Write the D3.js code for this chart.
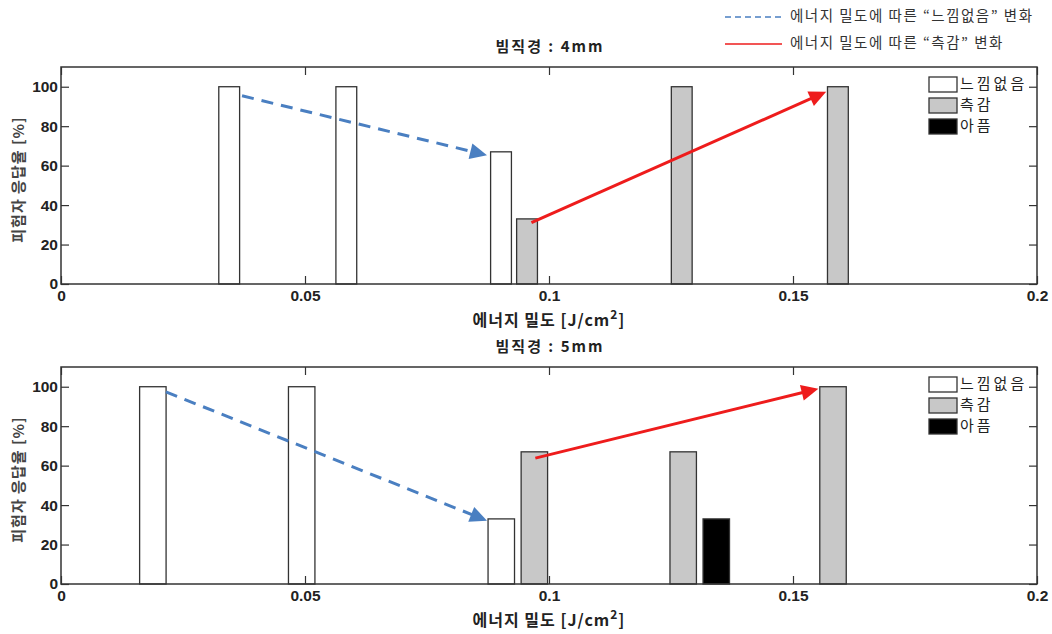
<!DOCTYPE html>
<html>
<head>
<meta charset="utf-8">
<script src="https://cdn.jsdelivr.net/npm/d3@7"></script>
<style>
body { margin: 0; background: #fff; }
text { font-family: "Liberation Sans", Arial, "Noto Sans CJK KR", sans-serif; fill: #222; }
.kr { font-family: "Noto Sans CJK KR", sans-serif; }
</style>
</head>
<body>
<script>
var width = 1052;
var height = 634;

// legend / series
var seriesNames = ['느낌없음', '측감', '아픔'];
var seriesFill = ['#ffffff', '#c8c8c8', '#000000'];
var xTicks = [0, 0.05, 0.1, 0.15, 0.2];
var yTicks = [0, 20, 40, 60, 80, 100];

// beam 4mm
var energy4 = [0.0398, 0.0638, 0.0955, 0.1272, 0.1592];
var none4 = [100, 100, 67, 0, 0];
var tactile4 = [0, 0, 33, 100, 100];
var pain4 = [0, 0, 0, 0, 0];
var arrowNone4 = [0.0371, 95.4, 0.0873, 65.3];
var arrowTactile4 = [0.0964, 31.1, 0.1568, 97.4];

// beam 5mm
var energy5 = [0.0256, 0.0561, 0.0970, 0.1275, 0.1582];
var none5 = [100, 100, 33, 0, 0];
var tactile5 = [0, 0, 67, 67, 100];
var pain5 = [0, 0, 0, 33, 0];
var arrowNone5 = [0.0215, 97.4, 0.0873, 32.1];
var arrowTactile5 = [0.0972, 63.8, 0.1552, 99];

var blue = '#4a7fc1';
var red = '#ee1c1c';

var panels = [
  {title: '빔직경 : 4mm', energy: energy4, values: [none4, tactile4, pain4],
   arrows: [arrowNone4, arrowTactile4], top: 67, bottom: 284},
  {title: '빔직경 : 5mm', energy: energy5, values: [none5, tactile5, pain5],
   arrows: [arrowNone5, arrowTactile5], top: 367, bottom: 584}
];

var svg = d3.select('body').append('svg')
  .attr('width', width)
  .attr('height', height);

var x = d3.scaleLinear().domain([0, 0.2]).range([61, 1037]);

// top legend for the arrows
var topLegend = [
  {label: '에너지 밀도에 따른 “느낌없음” 변화', color: blue, dash: '6,4', y: 17},
  {label: '에너지 밀도에 따른 “측감” 변화', color: red, dash: null, y: 44}
];
topLegend.forEach(function(d) {
  svg.append('line')
    .attr('x1', 725).attr('x2', 782)
    .attr('y1', d.y).attr('y2', d.y)
    .attr('stroke', d.color)
    .attr('stroke-width', 1.6)
    .attr('stroke-dasharray', d.dash);
  svg.append('text')
    .attr('class', 'kr')
    .attr('x', 790).attr('y', d.y)
    .attr('dominant-baseline', 'middle')
    .style('font-size', '14.5px')
    .style('letter-spacing', '1.5px')
    .style('fill', '#333')
    .text(d.label);
});

function drawArrow(g, y, a, color, dashed) {
  var x1 = x(a[0]), y1 = y(a[1]), x2 = x(a[2]), y2 = y(a[3]);
  var ang = Math.atan2(y2 - y1, x2 - x1);
  var hl = 17, hw = 8;
  var bx = x2 - hl * Math.cos(ang), by = y2 - hl * Math.sin(ang);
  g.append('line')
    .attr('x1', x1).attr('y1', y1)
    .attr('x2', bx + 2 * Math.cos(ang)).attr('y2', by + 2 * Math.sin(ang))
    .attr('stroke', color)
    .attr('stroke-width', 3)
    .attr('stroke-dasharray', dashed ? '12,8' : null);
  g.append('path')
    .attr('d', 'M' + x2 + ',' + y2 +
      'L' + (bx + hw * Math.sin(ang)) + ',' + (by - hw * Math.cos(ang)) +
      'L' + (bx - hw * Math.sin(ang)) + ',' + (by + hw * Math.cos(ang)) + 'Z')
    .attr('fill', color);
}

panels.forEach(function(p) {
  var y = d3.scaleLinear().domain([0, 110]).range([p.bottom, p.top]);
  var g = svg.append('g');

  // grouped bars, matlab style spacing
  var gaps = d3.pairs(p.energy, function(a, b) { return b - a; });
  var step = d3.min(gaps) * 2 / 9;
  var bw = step * 0.8;

  p.values.forEach(function(vals, s) {
    var rows = vals.map(function(v, i) { return {e: p.energy[i], v: v}; })
      .filter(function(d) { return d.v > 0; });
    g.selectAll('rect.s' + s).data(rows).enter().append('rect')
      .attr('class', 's' + s)
      .attr('x', function(d) { return x(d.e + (s - 1) * step - bw / 2); })
      .attr('width', x(bw) - x(0))
      .attr('y', function(d) { return y(d.v); })
      .attr('height', function(d) { return y(0) - y(d.v); })
      .attr('fill', seriesFill[s])
      .attr('stroke', '#333')
      .attr('stroke-width', 1.3);
  });

  // axes, ticks pointing inwards
  g.append('g')
    .attr('transform', 'translate(0,' + p.bottom + ')')
    .call(d3.axisBottom(x).tickValues(xTicks).tickSizeInner(-8).tickSizeOuter(0)
      .tickPadding(6).tickFormat(d3.format('')));
  g.append('g')
    .attr('transform', 'translate(0,' + p.top + ')')
    .call(d3.axisTop(x).tickValues(xTicks).tickSizeInner(-8).tickSizeOuter(0).tickFormat(''));
  g.append('g')
    .attr('transform', 'translate(' + x(0) + ',0)')
    .call(d3.axisLeft(y).tickValues(yTicks).tickSizeInner(-8).tickSizeOuter(0).tickPadding(3));
  g.append('g')
    .attr('transform', 'translate(' + x(0.2) + ',0)')
    .call(d3.axisRight(y).tickValues(yTicks).tickSizeInner(-8).tickSizeOuter(0).tickFormat(''));

  g.selectAll('.domain').remove();
  g.selectAll('.tick line').attr('stroke', '#333').attr('stroke-width', 1.2);
  g.selectAll('.tick text')
    .style('font-size', '15.5px')
    .style('font-weight', 'bold')
    .style('font-family', '"Liberation Sans", Arial, sans-serif')
    .attr('fill', '#222');

  // frame
  g.append('rect')
    .attr('x', x(0)).attr('y', p.top)
    .attr('width', x(0.2) - x(0))
    .attr('height', p.bottom - p.top)
    .attr('fill', 'none')
    .attr('stroke', '#333')
    .attr('stroke-width', 1.5);

  // legend inside plot
  seriesNames.forEach(function(name, s) {
    var ly = p.top + 10 + s * 21;
    g.append('rect')
      .attr('x', 929).attr('y', ly)
      .attr('width', 28).attr('height', 15)
      .attr('fill', seriesFill[s])
      .attr('stroke', '#333')
      .attr('stroke-width', 1.3);
    g.append('text')
      .attr('class', 'kr')
      .attr('x', 960).attr('y', ly + 8)
      .attr('dominant-baseline', 'middle')
      .style('font-size', '15px')
      .style('letter-spacing', '3px')
      .text(name);
  });

  // arrows
  drawArrow(g, y, p.arrows[0], blue, true);
  drawArrow(g, y, p.arrows[1], red, false);

  // title
  g.append('text')
    .attr('class', 'kr')
    .attr('x', 550).attr('y', p.top - 19)
    .attr('text-anchor', 'middle')
    .attr('dominant-baseline', 'middle')
    .style('font-size', '15px')
    .style('font-weight', 'bold')
    .style('letter-spacing', '2px')
    .text(p.title);

  // x label
  var xl = g.append('text')
    .attr('class', 'kr')
    .attr('x', 549).attr('y', p.bottom + 42)
    .attr('text-anchor', 'middle')
    .style('font-size', '16px')
    .style('font-weight', 'bold')
    .style('letter-spacing', '1px');
  xl.append('tspan').text('에너지 밀도 [J/cm');
  xl.append('tspan').attr('dy', -7).style('font-size', '12px').text('2');
  xl.append('tspan').attr('dy', 7).text(']');

  // y label
  var cy = (p.top + p.bottom) / 2 + 4;
  g.append('text')
    .attr('class', 'kr')
    .attr('transform', 'translate(24,' + cy + ') rotate(-90)')
    .attr('text-anchor', 'middle')
    .style('font-size', '15px')
    .style('font-weight', 'bold')
    .style('letter-spacing', '1px')
    .style('fill', '#444')
    .text('피험자 응답율 [%]');
});
</script>
</body>
</html>
